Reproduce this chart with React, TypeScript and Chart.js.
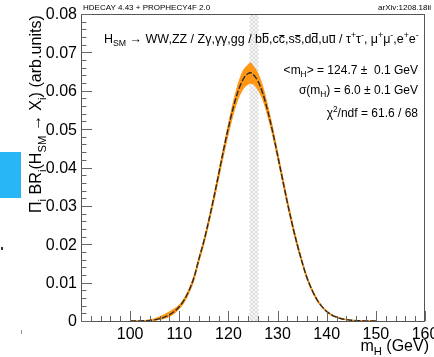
import { useEffect, useRef } from 'react';
import { Chart, registerables } from 'chart.js';

Chart.register(...registerables);

// ---- data ----
const massPoints = [100, 102, 104, 105, 106, 107, 108, 109, 110, 111, 112, 113, 114, 115, 116, 117, 118, 119, 120, 121, 122, 123, 124, 124.5, 125, 126, 127, 128, 129, 130, 131, 132, 133, 134, 135, 136, 137, 138, 139, 140, 141, 142, 143, 144, 145, 146, 148, 150];
const centralValues = [0, 0.00003, 0.00015, 0.0003, 0.0006, 0.001, 0.0016, 0.0025, 0.0037, 0.0055, 0.008, 0.0114, 0.0162, 0.0208, 0.0262, 0.032, 0.0382, 0.0445, 0.0504, 0.0557, 0.06, 0.063, 0.0645, 0.0647, 0.0643, 0.0625, 0.0593, 0.0547, 0.0493, 0.0432, 0.037, 0.0308, 0.0251, 0.0199, 0.0153, 0.0112, 0.0081, 0.0056, 0.0038, 0.0025, 0.0016, 0.001, 0.0006, 0.00035, 0.0002, 0.0001, 0.00003, 0];
const bandUpper = [0, 0.00005, 0.0003, 0.0006, 0.0011, 0.0017, 0.0024, 0.0032, 0.0042, 0.0059, 0.0084, 0.0118, 0.0166, 0.0212, 0.0266, 0.0325, 0.0388, 0.0452, 0.0513, 0.057, 0.0618, 0.0652, 0.0668, 0.0672, 0.0665, 0.0645, 0.061, 0.056, 0.0503, 0.0441, 0.0378, 0.0316, 0.0258, 0.0205, 0.0158, 0.0116, 0.0084, 0.0059, 0.004, 0.0027, 0.0017, 0.0011, 0.0007, 0.0004, 0.00025, 0.00012, 0.00004, 0];
const bandLower = [0, 0, 0.0001, 0.0002, 0.0004, 0.0007, 0.0012, 0.002, 0.0032, 0.0049, 0.0074, 0.0107, 0.0155, 0.02, 0.0253, 0.031, 0.0371, 0.0432, 0.0489, 0.054, 0.058, 0.0605, 0.0617, 0.0619, 0.0618, 0.0603, 0.0577, 0.0535, 0.0484, 0.0425, 0.0363, 0.0302, 0.0245, 0.0194, 0.0149, 0.0108, 0.0078, 0.0053, 0.0036, 0.0023, 0.0014, 0.0009, 0.0005, 0.0003, 0.00015, 0.00008, 0.00002, 0];
const xTickValues = [100, 110, 120, 130, 140, 150, 160];
const xTickLabels = ['100', '110', '120', '130', '140', '150', '160'];
const yTickValues = [0, 0.01, 0.02, 0.03, 0.04, 0.05, 0.06, 0.07, 0.08];
const yTickLabels = ['0', '0.01', '0.02', '0.03', '0.04', '0.05', '0.06', '0.07', '0.08'];
const xMinorStep = 2;
const yMinorStep = 0.002;
const hatchRange = [124.3, 126.1];
const xRange = [90, 160];
const yRange = [0, 0.08];

const FAMILY = '"Liberation Sans", Arial, Helvetica, sans-serif';

type Seg = { t: string; sub?: boolean; sup?: boolean; bar?: 'hi' | 'lo' };

function segSize(s: Seg, size: number) {
  return s.sub || s.sup ? size * 0.7 : size;
}
function measureRich(ctx: CanvasRenderingContext2D, segs: Seg[], size: number) {
  let w = 0;
  for (const s of segs) {
    ctx.font = `${segSize(s, size)}px ${FAMILY}`;
    w += ctx.measureText(s.t).width;
  }
  return w;
}
function drawRich(ctx: CanvasRenderingContext2D, segs: Seg[], x: number, y: number, size: number, align: 'left' | 'right' | 'center', color = '#000') {
  const w = measureRich(ctx, segs, size);
  let cx = align === 'right' ? x - w : align === 'center' ? x - w / 2 : x;
  ctx.fillStyle = color;
  ctx.strokeStyle = color;
  ctx.textAlign = 'left';
  ctx.textBaseline = 'alphabetic';
  for (const s of segs) {
    const fs = segSize(s, size);
    ctx.font = `${fs}px ${FAMILY}`;
    const dy = s.sub ? size * 0.28 : s.sup ? -size * 0.42 : 0;
    ctx.fillText(s.t, cx, y + dy);
    const sw = ctx.measureText(s.t).width;
    if (s.bar) {
      const by = Math.round(y - (s.bar === 'hi' ? size * 0.84 : size * 0.66)) + 0.5;
      ctx.lineWidth = 1;
      ctx.beginPath();
      ctx.moveTo(cx + 0.5, by);
      ctx.lineTo(cx + sw - 0.5, by);
      ctx.stroke();
    }
    cx += sw;
  }
}

const formulaSegs: Seg[] = [
  { t: 'H' }, { t: 'SM', sub: true }, { t: ' \u2192 WW,ZZ / Z\u03b3,\u03b3\u03b3,gg / b' }, { t: 'b', bar: 'hi' },
  { t: ',c' }, { t: 'c', bar: 'lo' }, { t: ',s' }, { t: 's', bar: 'lo' }, { t: ',d' }, { t: 'd', bar: 'hi' },
  { t: ',u' }, { t: 'u', bar: 'lo' }, { t: ' / \u03c4' }, { t: '+', sup: true }, { t: '\u03c4' }, { t: '-', sup: true },
  { t: ', \u03bc' }, { t: '+', sup: true }, { t: '\u03bc' }, { t: '-', sup: true }, { t: ',e' }, { t: '+', sup: true }, { t: 'e' }, { t: '-', sup: true },
];
const statLines: Seg[][] = [
  [{ t: '<m' }, { t: 'H', sub: true }, { t: '> = 124.7 \u00b1  0.1 GeV' }],
  [{ t: '\u03c3(m' }, { t: 'H', sub: true }, { t: ') = 6.0 \u00b1 0.1 GeV' }],
  [{ t: '\u03c7' }, { t: '2', sup: true }, { t: '/ndf = 61.6 / 68' }],
];
const yTitleSegs: Seg[] = [
  { t: '\u03a0' }, { t: 'i', sub: true }, { t: ' BR' }, { t: 'i', sub: true }, { t: '(H' }, { t: 'SM', sub: true },
  { t: ' \u2192 X' }, { t: 'i', sub: true }, { t: ') (arb.units)' },
];
const xTitleSegs: Seg[] = [{ t: 'm' }, { t: 'H', sub: true }, { t: ' (GeV)' }];

const decorPlugin = {
  id: 'decor',
  beforeDatasetsDraw(chart: any) {
    const { ctx, chartArea, scales } = chart;
    const x = scales.x;
    const pc = document.createElement('canvas');
    pc.width = 4;
    pc.height = 4;
    const p = pc.getContext('2d')!;
    p.fillStyle = '#f8f8f8';
    p.fillRect(0, 0, 4, 4);
    p.strokeStyle = '#dcdcdc';
    p.lineWidth = 1;
    p.beginPath();
    p.moveTo(0, 0); p.lineTo(4, 4);
    p.moveTo(4, 0); p.lineTo(0, 4);
    p.stroke();
    const pat = ctx.createPattern(pc, 'repeat');
    const x0 = x.getPixelForValue(hatchRange[0]);
    const x1 = x.getPixelForValue(hatchRange[1]);
    ctx.save();
    ctx.fillStyle = pat;
    ctx.fillRect(x0, chartArea.top, x1 - x0, chartArea.bottom - chartArea.top);
    ctx.restore();
  },
  afterDraw(chart: any) {
    const { ctx, chartArea, scales } = chart;
    const xs = scales.x;
    const ys = scales.y;
    const { left, right, top, bottom } = chartArea;
    ctx.save();
    // frame
    ctx.strokeStyle = '#555';
    ctx.lineWidth = 1;
    ctx.strokeRect(left + 0.5, top + 0.5, right - left - 1, bottom - top);
    // ticks
    ctx.strokeStyle = '#666';
    ctx.beginPath();
    for (let v = xRange[0]; v <= xRange[1] + 1e-9; v += xMinorStep) {
      const px = Math.round(xs.getPixelForValue(v)) + 0.5;
      const major = Math.abs(v % 10) < 1e-9;
      ctx.moveTo(px, bottom);
      ctx.lineTo(px, bottom - (major ? 10 : 5));
    }
    for (let i = 0; i <= Math.round((yRange[1] - yRange[0]) / yMinorStep); i++) {
      const v = yRange[0] + i * yMinorStep;
      const py = Math.round(ys.getPixelForValue(v)) + 0.5;
      const major = i % 5 === 0;
      ctx.moveTo(left, py);
      ctx.lineTo(left + (major ? 11 : 5.5), py);
    }
    ctx.stroke();
    // tick labels
    ctx.fillStyle = '#000';
    ctx.font = `16px ${FAMILY}`;
    ctx.textAlign = 'center';
    ctx.textBaseline = 'alphabetic';
    xTickValues.forEach((v, i) => {
      ctx.fillText(xTickLabels[i], xs.getPixelForValue(v), 339);
    });
    ctx.textAlign = 'right';
    ctx.textBaseline = 'middle';
    yTickValues.forEach((v, i) => {
      ctx.fillText(yTickLabels[i], 77, ys.getPixelForValue(v) + 1);
    });
    // axis titles
    drawRich(ctx, xTitleSegs, 429, 351, 16, 'right');
    ctx.save();
    ctx.translate(41, 213);
    ctx.rotate(-Math.PI / 2);
    const yw = measureRich(ctx, yTitleSegs, 16);
    drawRich(ctx, yTitleSegs, 0, 0, 16 * 198 / yw, 'left');
    ctx.restore();
    // header texts
    drawRich(ctx, [{ t: 'HDECAY 4.43 + PROPHECY4F 2.0' }], 83, 10, 8, 'left');
    drawRich(ctx, [{ t: 'arXiv:1208.18ii' }], 431, 10, 8, 'right');
    // formula
    const fw = measureRich(ctx, formulaSegs, 14);
    drawRich(ctx, formulaSegs, 104, 43, 14 * 315 / fw, 'left');
    // stats
    drawRich(ctx, statLines[0], 418, 74, 12, 'right');
    drawRich(ctx, statLines[1], 418, 94, 12, 'right');
    drawRich(ctx, statLines[2], 418, 117, 12, 'right');
    ctx.restore();
  },
};

export default function App() {
  const ref = useRef<HTMLCanvasElement>(null);
  useEffect(() => {
    if (!ref.current) return;
    const orange = 'rgb(255,150,20)';
    const chart = new Chart(ref.current, {
      type: 'line',
      data: {
        datasets: [
          {
            label: 'central',
            data: massPoints.map((m, i) => ({ x: m, y: centralValues[i] })),
            borderColor: '#2a2a2a',
            borderWidth: 1.4,
            borderDash: [6, 2],
            pointRadius: 0,
            fill: false,
            cubicInterpolationMode: 'monotone',
          },
          {
            label: 'upper',
            data: massPoints.map((m, i) => ({ x: m, y: bandUpper[i] })),
            borderColor: orange,
            backgroundColor: orange,
            borderWidth: 1,
            pointRadius: 0,
            fill: '+1',
            cubicInterpolationMode: 'monotone',
          },
          {
            label: 'lower',
            data: massPoints.map((m, i) => ({ x: m, y: bandLower[i] })),
            borderColor: orange,
            borderWidth: 1,
            pointRadius: 0,
            fill: false,
            cubicInterpolationMode: 'monotone',
          },
        ],
      } as any,
      options: {
        responsive: false,
        maintainAspectRatio: false,
        animation: false,
        devicePixelRatio: 1,
        layout: { padding: { left: 81, top: 14, right: 9, bottom: 36 } },
        plugins: { legend: { display: false }, tooltip: { enabled: false } },
        scales: {
          x: { type: 'linear', min: xRange[0], max: xRange[1], display: false },
          y: { type: 'linear', min: yRange[0], max: yRange[1], display: false },
        },
      },
      plugins: [decorPlugin],
    });
    return () => chart.destroy();
  }, []);
  return (
    <div style={{ position: 'absolute', left: 0, top: 0, width: 434, height: 357, background: '#fff' }}>
      <canvas ref={ref} width={434} height={357} style={{ display: 'block' }} />
      <div style={{ position: 'absolute', left: 0, top: 152, width: 21, height: 46, background: '#29b6f6' }} />
      <div style={{ position: 'absolute', left: 1, top: 247, width: 2, height: 3, background: '#333' }} />
      <div style={{ position: 'absolute', left: 21, top: 330, width: 1, height: 4, background: '#999' }} />
    </div>
  );
}
